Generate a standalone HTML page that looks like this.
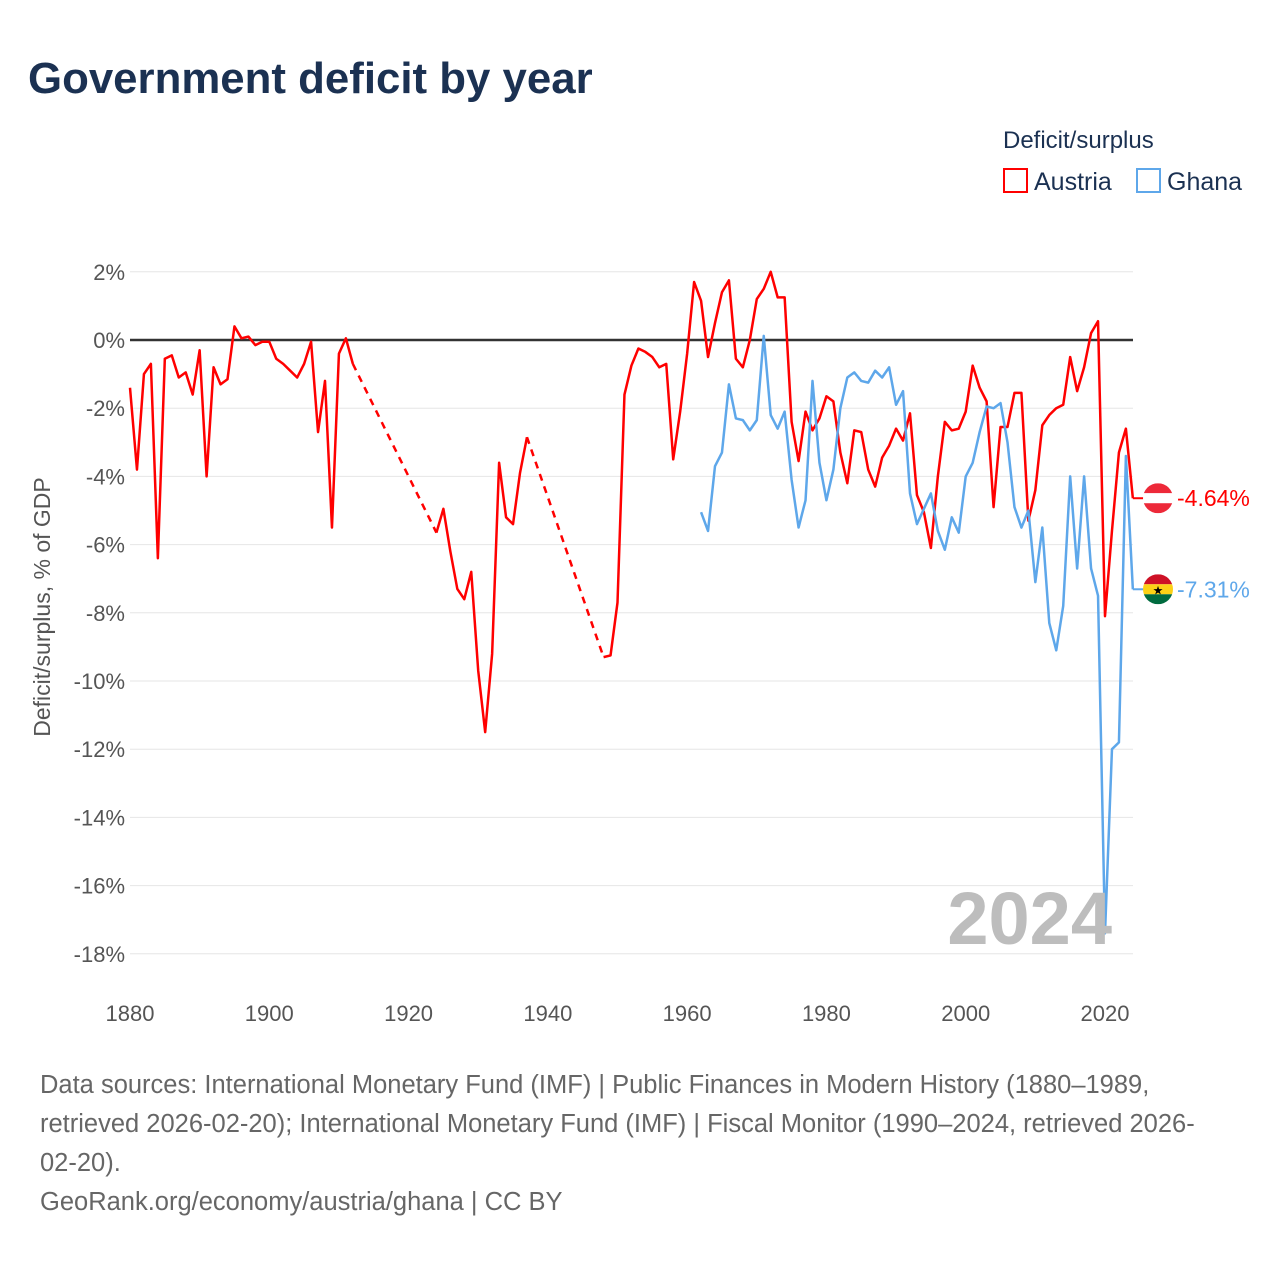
<!DOCTYPE html>
<html><head><meta charset="utf-8"><style>
body{margin:0;background:#fff;width:1280px;height:1280px;overflow:hidden;font-family:"Liberation Sans",sans-serif}
</style></head><body>
<svg id="chart" width="1280" height="1280" xmlns="http://www.w3.org/2000/svg" font-family="Liberation Sans, sans-serif">
<text x="28" y="93" font-size="43.8" font-weight="bold" fill="#1b3152">Government deficit by year</text>
<text x="1003" y="148" font-size="24" fill="#1b3152">Deficit/surplus</text>
<g><rect x="1004" y="169" width="23" height="23" fill="none" stroke="#ff0000" stroke-width="2"/><text x="1034" y="190" font-size="25" fill="#1b3152">Austria</text></g>
<g><rect x="1137" y="169" width="23" height="23" fill="none" stroke="#5ea7ea" stroke-width="2"/><text x="1167" y="190" font-size="25" fill="#1b3152">Ghana</text></g>
<text transform="translate(50,607) rotate(-90)" text-anchor="middle" font-size="23" fill="#555">Deficit/surplus, % of GDP</text>
<g id="grid"></g><g id="series"></g>
<text x="1112" y="944" text-anchor="end" font-size="74" font-weight="bold" fill="#bdbdbd">2024</text>
<text font-size="25.5" fill="#666"><tspan x="40" y="1093">Data sources: International Monetary Fund (IMF) | Public Finances in Modern History (1880–1989,</tspan><tspan x="40" y="1132">retrieved 2026-02-20); International Monetary Fund (IMF) | Fiscal Monitor (1990–2024, retrieved 2026-</tspan><tspan x="40" y="1171">02-20).</tspan><tspan x="40" y="1210">GeoRank.org/economy/austria/ghana | CC BY</tspan></text>
</svg>
<script>
const yTicks=[2,0,-2,-4,-6,-8,-10,-12,-14,-16,-18];
const xTicks=[1880,1900,1920,1940,1960,1980,2000,2020];
const austriaYears=[1880,1881,1882,1883,1884,1885,1886,1887,1888,1889,1890,1891,1892,1893,1894,1895,1896,1897,1898,1899,1900,1901,1902,1903,1904,1905,1906,1907,1908,1909,1910,1911,1912,1924,1925,1926,1927,1928,1929,1930,1931,1932,1933,1934,1935,1936,1937,1948,1949,1950,1951,1952,1953,1954,1955,1956,1957,1958,1959,1960,1961,1962,1963,1964,1965,1966,1967,1968,1969,1970,1971,1972,1973,1974,1975,1976,1977,1978,1979,1980,1981,1982,1983,1984,1985,1986,1987,1988,1989,1990,1991,1992,1993,1994,1995,1996,1997,1998,1999,2000,2001,2002,2003,2004,2005,2006,2007,2008,2009,2010,2011,2012,2013,2014,2015,2016,2017,2018,2019,2020,2021,2022,2023,2024];
const austriaValues=[-1.4,-3.8,-1.0,-0.7,-6.4,-0.55,-0.45,-1.1,-0.95,-1.6,-0.3,-4.0,-0.8,-1.3,-1.15,0.4,0.05,0.1,-0.15,-0.05,-0.05,-0.55,-0.7,-0.9,-1.1,-0.7,-0.05,-2.7,-1.2,-5.5,-0.4,0.05,-0.7,-5.65,-4.95,-6.2,-7.3,-7.6,-6.8,-9.7,-11.5,-9.2,-3.6,-5.2,-5.4,-3.9,-2.85,-9.3,-9.25,-7.7,-1.6,-0.75,-0.25,-0.35,-0.5,-0.8,-0.7,-3.5,-2.1,-0.4,1.7,1.15,-0.5,0.5,1.4,1.75,-0.55,-0.8,0.0,1.2,1.5,2.0,1.25,1.25,-2.4,-3.55,-2.1,-2.65,-2.3,-1.65,-1.8,-3.3,-4.2,-2.65,-2.7,-3.8,-4.3,-3.45,-3.1,-2.6,-2.95,-2.15,-4.55,-5.05,-6.1,-4.0,-2.4,-2.65,-2.6,-2.1,-0.75,-1.4,-1.8,-4.9,-2.55,-2.55,-1.55,-1.55,-5.3,-4.4,-2.5,-2.2,-2.0,-1.9,-0.5,-1.5,-0.8,0.2,0.55,-8.1,-5.6,-3.3,-2.6,-4.64];
const ghanaYears=[1962,1963,1964,1965,1966,1967,1968,1969,1970,1971,1972,1973,1974,1975,1976,1977,1978,1979,1980,1981,1982,1983,1984,1985,1986,1987,1988,1989,1990,1991,1992,1993,1994,1995,1996,1997,1998,1999,2000,2001,2002,2003,2004,2005,2006,2007,2008,2009,2010,2011,2012,2013,2014,2015,2016,2017,2018,2019,2020,2021,2022,2023,2024];
const ghanaValues=[-5.05,-5.6,-3.7,-3.3,-1.3,-2.3,-2.35,-2.65,-2.35,0.12,-2.2,-2.6,-2.1,-4.1,-5.5,-4.7,-1.2,-3.6,-4.7,-3.8,-2.0,-1.1,-0.95,-1.2,-1.25,-0.9,-1.1,-0.8,-1.9,-1.5,-4.5,-5.4,-4.95,-4.5,-5.6,-6.15,-5.2,-5.65,-4.0,-3.6,-2.7,-1.95,-2.0,-1.85,-3.0,-4.9,-5.5,-5.0,-7.1,-5.5,-8.3,-9.1,-7.8,-4.0,-6.7,-4.0,-6.7,-7.5,-17.4,-12.0,-11.8,-3.4,-7.31];
const NS='http://www.w3.org/2000/svg';
const X=y=>130+(y-1880)*975/140;
const Y=v=>340-v*34.1;
function mk(tag,attrs,parent){const e=document.createElementNS(NS,tag);for(const k in attrs)e.setAttribute(k,attrs[k]);parent.appendChild(e);return e;}
const grid=document.getElementById('grid'),ser=document.getElementById('series');
yTicks.forEach(t=>{
  const l=mk('line',{x1:130,x2:1133,y1:Y(t),y2:Y(t),stroke:t===0?'#333':'#e6e6e6','stroke-width':t===0?2.5:1},grid);
  
  
  const tx=mk('text',{x:125,y:Y(t)+8,'text-anchor':'end','font-size':22,fill:'#555'},grid);
  tx.textContent=t+'%';
  
  
});
xTicks.forEach(t=>{
  const tx=mk('text',{x:X(t),y:1021,'text-anchor':'middle','font-size':22,fill:'#555'},grid);
  tx.textContent=t;
  
  
});
function draw(years,vals,color,name){
  let seg=[];
  const flush=()=>{if(seg.length>1){const p=mk('polyline',{points:seg.map(q=>q.join(',')).join(' '),fill:'none',stroke:color,'stroke-width':2.5,'stroke-linejoin':'round'},ser);
    
    }seg=[];};
  for(let i=0;i<years.length;i++){
    if(i>0&&years[i]-years[i-1]>1){
      flush();
      const d=mk('line',{x1:X(years[i-1]),y1:Y(vals[i-1]),x2:X(years[i]),y2:Y(vals[i]),stroke:color,'stroke-width':2.5,'stroke-dasharray':'7,6'},ser);
      
      
    }
    seg.push([X(years[i]),Y(vals[i])]);
  }
  flush();
  const last=vals[vals.length-1],ly=Y(last),lx=X(years[years.length-1]);
  const c=mk('line',{x1:lx,y1:ly,x2:1145,y2:ly,stroke:color,'stroke-width':2},ser);
  
  
  return ly;
}
const ay=draw(austriaYears,austriaValues,'#ff0000','austria');
const gy=draw(ghanaYears,ghanaValues,'#5ea7ea','ghana');
const fa=mk('g',{},ser);


const caClip=mk('clipPath',{id:'ca'},fa);mk('circle',{cx:1158,cy:ay,r:15},caClip);
const ga=mk('g',{'clip-path':'url(#ca)'},fa);
mk('rect',{x:1143,y:ay-15,width:30,height:10,fill:'#ed2939'},ga);
mk('rect',{x:1143,y:ay-5,width:30,height:10,fill:'#fff'},ga);
mk('rect',{x:1143,y:ay+5,width:30,height:10,fill:'#ed2939'},ga);
const fg=mk('g',{},ser);


const cg=mk('clipPath',{id:'cg'},fg);mk('circle',{cx:1158,cy:gy,r:15},cg);
const gg=mk('g',{'clip-path':'url(#cg)'},fg);
mk('rect',{x:1143,y:gy-15,width:30,height:10,fill:'#ce1126'},gg);
mk('rect',{x:1143,y:gy-5,width:30,height:10,fill:'#fcd116'},gg);
mk('rect',{x:1143,y:gy+5,width:30,height:10,fill:'#006b3f'},gg);
const st=mk('text',{x:1158,y:gy+5,'text-anchor':'middle','font-size':12,fill:'#000'},gg);st.textContent='★';
const la=mk('text',{x:1177,y:ay+8,'font-size':23,fill:'#ff0000'},ser);la.textContent='-4.64%';


const lg=mk('text',{x:1177,y:gy+8,'font-size':23,fill:'#5ea7ea'},ser);lg.textContent='-7.31%';


</script>
</body></html>
